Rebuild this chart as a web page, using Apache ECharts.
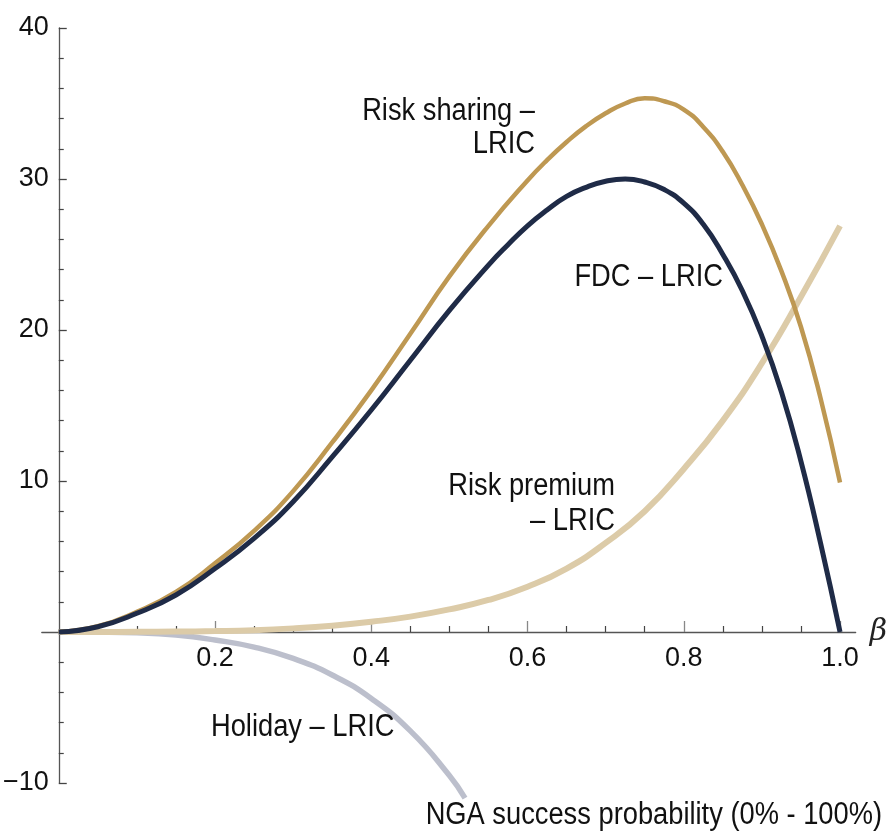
<!DOCTYPE html>
<html><head><meta charset="utf-8">
<script src="https://cdn.jsdelivr.net/npm/echarts@6/dist/echarts.min.js"></script>
<style>html,body{margin:0;padding:0;background:#fff}#c{width:890px;height:833px}</style>
</head><body><div id="c"></div>
<script>
// ---- data ----
const riskSharingBeta = [0, 0.05, 0.1, 0.15, 0.2, 0.25, 0.3, 0.35, 0.4, 0.45, 0.5, 0.55, 0.6, 0.625, 0.65, 0.675, 0.7, 0.725, 0.75, 0.775, 0.8, 0.825, 0.85, 0.875, 0.9, 0.925, 0.95, 0.975, 1.0];
const riskSharingLric = [0, 0.38, 1.34, 2.65, 4.55, 6.7, 9.33, 12.55, 16.0, 19.75, 23.55, 26.9, 29.9, 31.25, 32.45, 33.5, 34.35, 35.0, 35.35, 35.15, 34.6, 33.45, 31.8, 29.6, 27.0, 23.9, 20.2, 15.5, 9.9];
const fdcBeta         = [0, 0.05, 0.1, 0.15, 0.2, 0.25, 0.3, 0.35, 0.4, 0.45, 0.5, 0.55, 0.575, 0.6, 0.625, 0.65, 0.675, 0.7, 0.725, 0.75, 0.775, 0.8, 0.825, 0.85, 0.875, 0.9, 0.925, 0.95, 0.975, 1.0];
const fdcLric         = [0, 0.35, 1.24, 2.45, 4.2, 6.2, 8.63, 11.6, 14.7, 18.0, 21.3, 24.3, 25.65, 26.9, 27.95, 28.85, 29.45, 29.85, 30.0, 29.8, 29.3, 28.4, 27.0, 25.0, 22.6, 19.6, 15.9, 11.3, 5.9, 0];
const riskPremiumBeta = [0, 0.05, 0.1, 0.15, 0.2, 0.25, 0.3, 0.35, 0.4, 0.45, 0.5, 0.55, 0.6, 0.65, 0.7, 0.75, 0.8, 0.85, 0.9, 0.95, 1.0];
const riskPremiumLric = [0, 0.0, 0.01, 0.03, 0.06, 0.12, 0.24, 0.42, 0.68, 1.02, 1.5, 2.12, 3.0, 4.2, 5.9, 8.0, 10.8, 14.0, 17.8, 22.2, 26.9];
const holidayBeta     = [0, 0.05, 0.1, 0.15, 0.2, 0.25, 0.3, 0.35, 0.4, 0.45, 0.5, 0.52];
const holidayLric     = [0, -0.01, -0.05, -0.2, -0.53, -1.0, -1.75, -2.85, -4.4, -6.55, -9.5, -11.0];
const xTickValues     = [0.2, 0.4, 0.6, 0.8, 1.0];
const yTickValues     = [-10, 10, 20, 30, 40];
const seriesNames     = ['Risk sharing – LRIC', 'FDC – LRIC', 'Risk premium – LRIC', 'Holiday – LRIC'];

const FONT = "'Liberation Sans',Arial,sans-serif";
const pair = (xs, ys) => xs.map((x, i) => [x, ys[i]]);
const label = (text, x, y, align, lh) => ({
  type: 'text', x: x, y: y, scaleX: 0.88, z: 100,
  style: {text: text, align: align, verticalAlign: 'middle', lineHeight: lh || 34,
          fontFamily: FONT, fontSize: 31, fill: '#111'}
});

const chart = echarts.init(document.getElementById('c'), null, {renderer: 'canvas'});
chart.setOption({
  animation: false,
  backgroundColor: '#fff',
  grid: {left: 40, right: 32, top: 28, bottom: 50, containLabel: false},
  xAxis: {
    type: 'value', min: -0.0217, max: 1.02,
    name: 'β', nameLocation: 'end', nameGap: 14,
    nameTextStyle: {fontFamily: "'DejaVu Serif','Liberation Serif',serif", fontStyle: 'italic', fontSize: 30, color: '#222', verticalAlign: 'middle', align: 'left'},
    axisLine: {show: true, onZero: true, lineStyle: {color: '#555', width: 1.3}},
    axisTick: {show: true, inside: true, length: 11, customValues: xTickValues, lineStyle: {color: '#888', width: 1.3}},
    minorTick: {show: true, splitNumber: 4, length: 6, lineStyle: {color: '#444', width: 1.2}},
    axisLabel: {customValues: xTickValues, margin: -138, fontFamily: FONT, fontSize: 27, color: '#111',
      formatter: v => Number(v).toFixed(1)},
    splitLine: {show: false}, minorSplitLine: {show: false}
  },
  yAxis: {
    type: 'value', min: -10, max: 40, interval: 10,
    axisLine: {show: true, onZero: true, lineStyle: {color: '#555', width: 1.3}},
    axisTick: {show: true, inside: true, length: 8, lineStyle: {color: '#444', width: 1.3}},
    minorTick: {show: true, splitNumber: 5, length: 5, lineStyle: {color: '#444', width: 1.2}},
    axisLabel: {customValues: yTickValues, margin: -7, fontFamily: FONT, fontSize: 27, color: '#111',
      formatter: v => v < 0 ? '\u2212' + Math.abs(v) : String(v)},
    splitLine: {show: false}, minorSplitLine: {show: false}
  },
  series: [
    {name: seriesNames[3], type: 'line', data: pair(holidayBeta, holidayLric), showSymbol: false, smooth: 0.5, clip: false,
     lineStyle: {color: '#BCBFCC', width: 5.5}},
    {name: seriesNames[2], type: 'line', data: pair(riskPremiumBeta, riskPremiumLric), showSymbol: false, smooth: 0.5,
     lineStyle: {color: '#DCCBA8', width: 6}},
    {name: seriesNames[0], type: 'line', data: pair(riskSharingBeta, riskSharingLric), showSymbol: false, smooth: 0.5,
     lineStyle: {color: '#BE9852', width: 4.5}},
    {name: seriesNames[1], type: 'line', data: pair(fdcBeta, fdcLric), showSymbol: false, smooth: 0.5,
     lineStyle: {color: '#1F2B47', width: 5}}
  ],
  graphic: [
    label('Risk sharing –\nLRIC', 535, 128, 'right', 33),
    label('FDC – LRIC', 723, 277, 'right'),
    label('Risk premium\n– LRIC', 615, 504, 'right', 35),
    label('Holiday – LRIC', 211, 727, 'left'),
    label('NGA success probability (0% - 100%)', 882, 815, 'right')
  ]
});
</script>
</body></html>
